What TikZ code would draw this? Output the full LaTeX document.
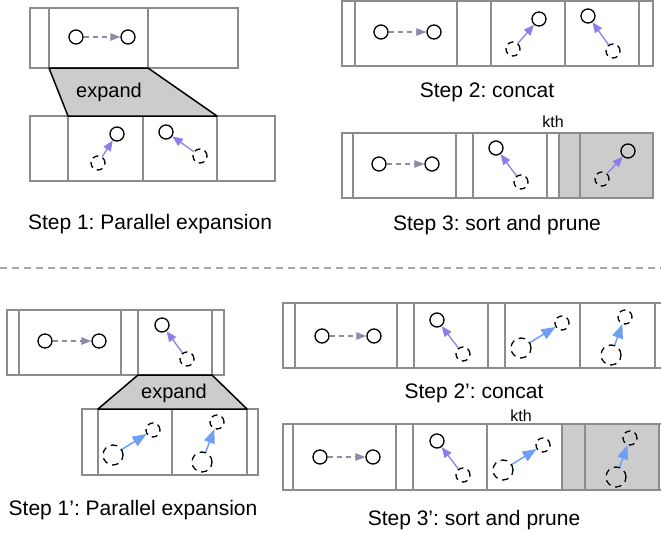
\documentclass[tikz,border=0pt]{standalone}
\usepackage{fontspec}
\setmainfont{Liberation Sans}
\usetikzlibrary{arrows.meta}
\frenchspacing

\definecolor{boxgray}{HTML}{8C8C8C}
\definecolor{fillgray}{HTML}{CCCCCC}
\definecolor{oldedge}{HTML}{8E8AA8}
\definecolor{purpedge}{HTML}{8C80E8}
\definecolor{blueedge}{HTML}{6E9EF6}

\begin{document}
\begin{tikzpicture}[x=1pt,y=-1pt,
  cell/.style={draw=boxgray,line width=1.5pt},
  trap/.style={draw=black,fill=fillgray,line width=1.5pt,line join=round},
  vtx/.style={circle,draw,line width=1.3pt,minimum size=14pt,inner sep=0pt},
  ghost/.style={vtx,dash pattern=on 6pt off 4.5pt,minimum size=14pt},
  bigghost/.style={vtx,dash pattern=on 6.5pt off 5pt,minimum size=20pt},
  oldarr/.style={draw=oldedge,line width=1.2pt,dash pattern=on 5pt off 4pt,-{Triangle[length=10pt,width=7.5pt]}},
  newarr/.style={draw=purpedge,line width=1.3pt,-{Triangle[length=10.5pt,width=8.5pt]}},
  bluearr/.style={draw=blueedge,line width=1.5pt,-{Triangle[length=14pt,width=11pt]}},
  lbl/.style={anchor=base,font=\fontsize{21}{25}\selectfont},
  small/.style={anchor=base,font=\fontsize{16}{19}\selectfont}
]
\useasboundingbox (0,0) rectangle (661,533);
\clip (0,0) rectangle (661,533);

% step 1
\draw[cell] (30,8) rectangle (238,68);
\foreach \x in {49,148} \draw[cell] (\x,8) -- (\x,68);
\node[vtx] (a1) at (76,37) {};
\node[vtx] (a2) at (128,37) {};
\draw[oldarr] (a1) -- (a2);

\draw[cell] (30,116) rectangle (275,181);
\foreach \x in {68,143,217} \draw[cell] (\x,116) -- (\x,181);
\node[vtx] (b1) at (117,134) {};
\node[ghost] (b1g) at (98,163) {};
\draw[newarr] (b1g) -- (b1);
\node[vtx] (b2) at (166,132) {};
\node[ghost] (b2g) at (200,156) {};
\draw[newarr] (b2g) -- (b2);

\draw[trap] (49,68) -- (148,68) -- (217,116) -- (68,116) -- cycle;
\node[lbl,font=\fontsize{20}{24}\selectfont] (exp1) at (109,97) {expand};
\node[lbl] (lab1) at (150,229) {Step 1: Parallel expansion};

% step 2
\draw[cell] (342,1) rectangle (653,66);
\foreach \x in {355,457,491,565,639} \draw[cell] (\x,1) -- (\x,66);
\node[vtx] (c1) at (381,32) {};
\node[vtx] (c2) at (434,32) {};
\draw[oldarr] (c1) -- (c2);
\node[vtx] (c3) at (539,19) {};
\node[ghost] (c3g) at (513,49) {};
\draw[newarr] (c3g) -- (c3);
\node[vtx] (c4) at (588,16) {};
\node[ghost] (c4g) at (613,51) {};
\draw[newarr] (c4g) -- (c4);
\node[lbl] (lab2) at (487,97) {Step 2: concat};

% step 3
\node[small] (kth1) at (553,127) {kth};
\fill[fillgray] (559,133) rectangle (653,198);
\draw[cell] (342,133) rectangle (653,198);
\foreach \x in {353,456,473,547,559,580} \draw[cell] (\x,133) -- (\x,198);
\node[vtx] (d1) at (379,164) {};
\node[vtx] (d2) at (432,164) {};
\draw[oldarr] (d1) -- (d2);
\node[vtx] (d3) at (496,148) {};
\node[ghost] (d3g) at (521,182) {};
\draw[newarr] (d3g) -- (d3);
\node[vtx] (d4) at (628,151) {};
\node[ghost] (d4g) at (602,179) {};
\draw[newarr] (d4g) -- (d4);
\node[lbl] (lab3) at (497,230) {Step 3: sort and prune};

\draw[draw=gray!70,line width=1.2pt,dash pattern=on 7pt off 5pt] (0,268) -- (661,268);

% step 1'
\draw[cell] (7,310) rectangle (224,375);
\foreach \x in {19,121,138,212} \draw[cell] (\x,310) -- (\x,375);
\node[vtx] (e1) at (45,341) {};
\node[vtx] (e2) at (99,341) {};
\draw[oldarr] (e1) -- (e2);
\node[vtx] (e3) at (162,325) {};
\node[ghost] (e3g) at (187,359) {};
\draw[newarr] (e3g) -- (e3);

\draw[cell] (82,409) rectangle (258,475);
\foreach \x in {98,172,247} \draw[cell] (\x,409) -- (\x,475);
\node[bigghost] (f1g) at (113,455) {};
\node[ghost] (f1) at (153,430) {};
\draw[bluearr] (f1g) -- (f1);
\node[bigghost] (f2g) at (202,462) {};
\node[ghost] (f2) at (217,422) {};
\draw[bluearr] (f2g) -- (f2);

\draw[trap] (138,375) -- (212,375) -- (247,409) -- (98,409) -- cycle;
\node[lbl,font=\fontsize{20}{24}\selectfont] (exp2) at (174,398) {expand};
\node[lbl] (lab4) at (133,515) {Step 1’: Parallel expansion};

% step 2'
\draw[cell] (283,303) rectangle (700,368);
\foreach \x in {295,397,414,488,505,580,655} \draw[cell] (\x,303) -- (\x,368);
\node[vtx] (g1) at (322,336) {};
\node[vtx] (g2) at (374,336) {};
\draw[oldarr] (g1) -- (g2);
\node[vtx] (g3) at (437,320) {};
\node[ghost] (g3g) at (463,354) {};
\draw[newarr] (g3g) -- (g3);
\node[bigghost] (g4g) at (521,348) {};
\node[ghost] (g4) at (562,323) {};
\draw[bluearr] (g4g) -- (g4);
\node[bigghost] (g5g) at (611,355) {};
\node[ghost] (g5) at (625,317) {};
\draw[bluearr] (g5g) -- (g5);
\node[lbl] (lab5) at (474,398) {Step 2’: concat};

% step 3'
\node[small] (kth2) at (521,421) {kth};
\fill[fillgray] (562,424) rectangle (659,490);
\draw[cell] (283,424) rectangle (700,490);
\foreach \x in {293,396,413,487,562,585,659} \draw[cell] (\x,424) -- (\x,490);
\node[vtx] (h1) at (320,457) {};
\node[vtx] (h2) at (373,457) {};
\draw[oldarr] (h1) -- (h2);
\node[vtx] (h3) at (437,441) {};
\node[ghost] (h3g) at (463,475) {};
\draw[newarr] (h3g) -- (h3);
\node[bigghost] (h4g) at (503,470) {};
\node[ghost] (h4) at (543,445) {};
\draw[bluearr] (h4g) -- (h4);
\node[bigghost] (h5g) at (616,477) {};
\node[ghost] (h5) at (630,438) {};
\draw[bluearr] (h5g) -- (h5);
\node[lbl] (lab6) at (474,525) {Step 3’: sort and prune};
\end{tikzpicture}
\end{document}
